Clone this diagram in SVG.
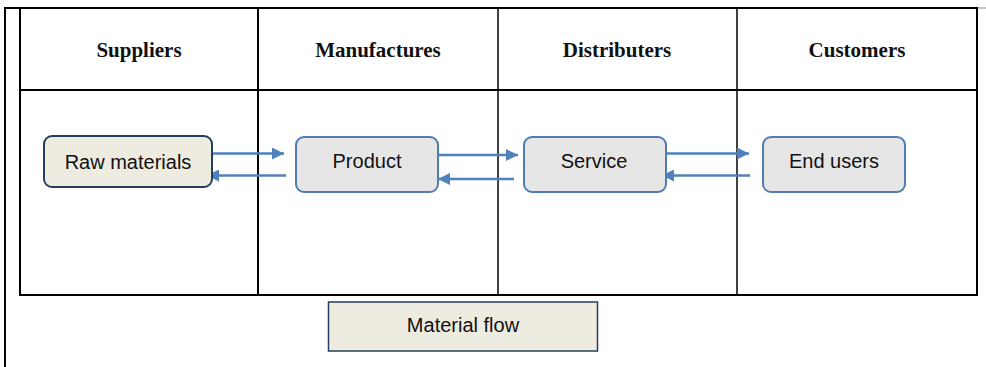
<svg xmlns="http://www.w3.org/2000/svg" width="986" height="367" viewBox="0 0 986 367">
<defs>
<style>
.grid{stroke:#000;fill:none}
.hdr{font-family:"Liberation Serif",serif;font-weight:bold;font-size:21px;fill:#111;text-anchor:middle}
.lbl{font-family:"Liberation Sans",Arial,sans-serif;font-size:20px;fill:#111;text-anchor:middle}
.beige{fill:#EEEBE0;stroke:#243F60;stroke-width:2}
.grey{fill:#E6E6E6;stroke:#4F7CB3;stroke-width:2}
.conn{stroke:#4F81BD;stroke-width:2.5;fill:none}
</style>
<marker id="ah" viewBox="0 0 12 12" refX="12" refY="6" markerWidth="12" markerHeight="12" markerUnits="userSpaceOnUse" orient="auto">
<path d="M0,0 L12,6 L0,12 Z" fill="#4F81BD"/>
</marker>
</defs>
<rect width="986" height="367" fill="#fff"/>
<g id="table">
<line class="grid" x1="5" y1="8" x2="5" y2="367" stroke-width="2"/>
<line class="grid" x1="4" y1="8" x2="977" y2="8" stroke-width="2"/>
<line x1="977" y1="8" x2="986" y2="8" stroke="#888" stroke-width="1"/>
<rect class="grid" x="20" y="8" width="957" height="287" stroke-width="2"/>
<line class="grid" x1="20" y1="90" x2="977" y2="90" stroke-width="2"/>
<line class="grid" x1="258" y1="8" x2="258" y2="295" stroke-width="2"/>
<line class="grid" x1="498" y1="8" x2="498" y2="295" stroke-width="1.5"/>
<line class="grid" x1="737" y1="8" x2="737" y2="295" stroke-width="1.5"/>
<text class="hdr" x="139" y="57">Suppliers</text>
<text class="hdr" x="378" y="57">Manufactures</text>
<text class="hdr" x="617" y="57">Distributers</text>
<text class="hdr" x="857" y="57">Customers</text>
</g>
<g id="connectors">
<line class="conn" x1="212" y1="153.5" x2="284" y2="153.5" marker-end="url(#ah)"/>
<line class="conn" x1="286" y1="175.5" x2="207" y2="175.5" marker-end="url(#ah)"/>
<line class="conn" x1="439" y1="155" x2="518" y2="155" marker-end="url(#ah)"/>
<line class="conn" x1="514" y1="179" x2="438" y2="179" marker-end="url(#ah)"/>
<line class="conn" x1="667" y1="153.5" x2="749" y2="153.5" marker-end="url(#ah)"/>
<line class="conn" x1="750" y1="175.5" x2="662" y2="175.5" marker-end="url(#ah)"/>
</g>
<g id="raw-materials">
<rect class="beige" x="44" y="136" width="168" height="51" rx="8"/>
<text class="lbl" x="128" y="169">Raw materials</text>
</g>
<g id="product">
<rect class="grey" x="296" y="137" width="142" height="55" rx="8"/>
<text class="lbl" x="367" y="168">Product</text>
</g>
<g id="service">
<rect class="grey" x="524" y="137" width="142" height="55" rx="8"/>
<text class="lbl" x="594" y="168">Service</text>
</g>
<g id="end-users">
<rect class="grey" x="763" y="137" width="142" height="55" rx="8"/>
<text class="lbl" x="834" y="168">End users</text>
</g>
<g id="material-flow">
<rect x="328.5" y="302" width="269" height="49" fill="#EEEBE0" stroke="#243F60" stroke-width="1.5"/>
<text class="lbl" x="463" y="332">Material flow</text>
</g>
</svg>
